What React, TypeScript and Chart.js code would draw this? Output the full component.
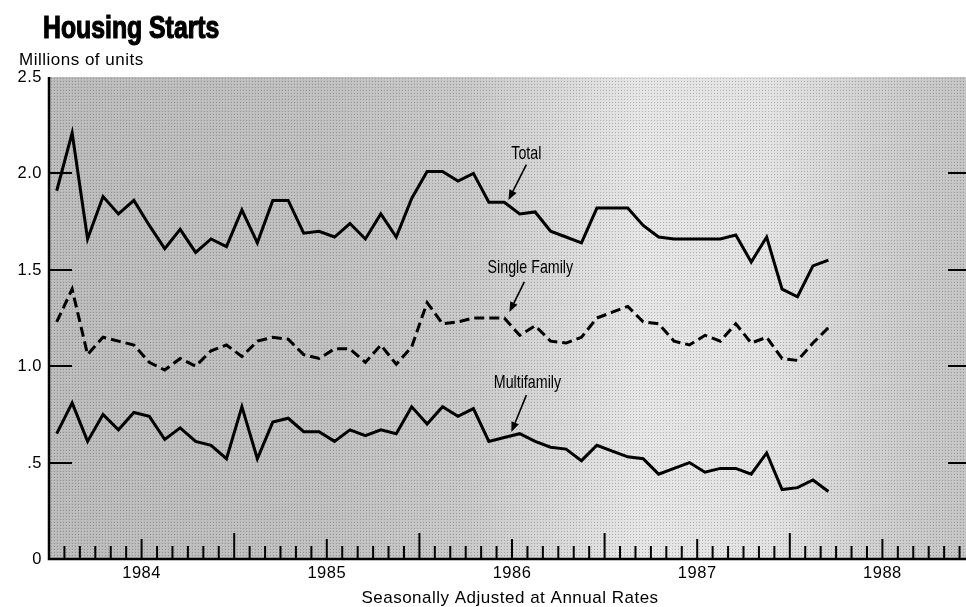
import React, { useEffect, useRef } from "react";
import { Chart, registerables } from "chart.js";

Chart.register(...registerables);

// ---- Data (monthly, Jan 1984 – Mar 1988, millions of units, SAAR) ----
const yearLabels = ["1984", "1985", "1986", "1987", "1988"];
const xMonthsSpan = 60; // Jan 1984 .. Dec 1988
const yTickValues = [0, 0.5, 1.0, 1.5, 2.0, 2.5];
const yTickLabels = ["0", ".5", "1.0", "1.5", "2.0", "2.5"];

const total = [
  1.91, 2.21, 1.66, 1.88, 1.79, 1.86, 1.73, 1.61, 1.71, 1.59, 1.66, 1.62,
  1.81, 1.64, 1.86, 1.86, 1.69, 1.70, 1.67, 1.74, 1.66, 1.79, 1.67, 1.87,
  2.01, 2.01, 1.96, 2.00, 1.85, 1.85, 1.79, 1.80, 1.70, 1.67, 1.64, 1.82,
  1.82, 1.82, 1.73, 1.67, 1.66, 1.66, 1.66, 1.66, 1.68, 1.54, 1.67, 1.40,
  1.36, 1.52, 1.55,
];

const singleFamily = [
  1.23, 1.40, 1.06, 1.15, 1.13, 1.11, 1.02, 0.98, 1.04, 1.00, 1.08, 1.11,
  1.05, 1.13, 1.15, 1.14, 1.06, 1.04, 1.09, 1.09, 1.02, 1.11, 1.01, 1.10,
  1.33, 1.22, 1.23, 1.25, 1.25, 1.25, 1.16, 1.21, 1.13, 1.12, 1.15, 1.25,
  1.28, 1.31, 1.23, 1.22, 1.13, 1.11, 1.16, 1.13, 1.22, 1.12, 1.15, 1.04,
  1.03, 1.12, 1.20,
];

const multifamily = [
  0.65, 0.81, 0.61, 0.75, 0.67, 0.76, 0.74, 0.62, 0.68, 0.61, 0.59, 0.52,
  0.79, 0.52, 0.71, 0.73, 0.66, 0.66, 0.61, 0.67, 0.64, 0.67, 0.65, 0.79,
  0.70, 0.79, 0.74, 0.78, 0.61, 0.63, 0.65, 0.61, 0.58, 0.57, 0.51, 0.59,
  0.56, 0.53, 0.52, 0.44, 0.47, 0.50, 0.45, 0.47, 0.47, 0.44, 0.55, 0.36,
  0.37, 0.41, 0.35,
];

// annotation labels in data coordinates (month index, value)
const annotationTexts = ["Total", "Single Family", "Multifamily"];
const annotationTextAt = [
  [30.93, 2.1],
  [31.19, 1.51],
  [31.0, 0.915],
];
const annotationArrowFrom = [
  [30.93, 2.045],
  [30.8, 1.437],
  [30.93, 0.85],
];
const annotationArrowTo = [
  [29.77, 1.862],
  [29.83, 1.281],
  [29.96, 0.659],
];

const xPos = total.map((_, i) => i + 0.5);
const toPoints = (arr: number[]) => arr.map((v, i) => ({ x: xPos[i], y: v }));

const FONT = "'Liberation Sans', Arial, Helvetica, sans-serif";

const customPlugin = {
  id: "housingCustom",
  beforeDatasetsDraw(chart: any) {
    const { ctx, chartArea: a, scales } = chart;
    const x = scales.x;
    const y = scales.y;
    ctx.save();
    // halftone-like background
    const g = ctx.createLinearGradient(a.left, 0, a.right, 0);
    const w = a.right - a.left;
    const stop = (px: number, c: string) =>
      g.addColorStop(Math.min(1, Math.max(0, (px - a.left) / w)), c);
    stop(49, "#bababa");
    stop(330, "#bfbfbf");
    stop(470, "#c8c8c8");
    stop(560, "#d8d8d8");
    stop(640, "#e5e5e5");
    stop(770, "#e2e2e2");
    stop(870, "#cfcfcf");
    stop(975, "#c2c2c2");
    ctx.fillStyle = g;
    ctx.fillRect(a.left, a.top, w, a.bottom - a.top);

    // fine dot texture
    const pc = document.createElement("canvas");
    pc.width = 3;
    pc.height = 3;
    const pctx = pc.getContext("2d")!;
    pctx.fillStyle = "rgba(0,0,0,0.22)";
    pctx.fillRect(0, 0, 1, 1);
    pctx.fillStyle = "rgba(255,255,255,0.18)";
    pctx.fillRect(1, 1, 1, 1);
    const pat = ctx.createPattern(pc, "repeat");
    if (pat) {
      ctx.fillStyle = pat;
      ctx.fillRect(a.left, a.top, w, a.bottom - a.top);
    }

    ctx.strokeStyle = "#000";
    ctx.lineCap = "butt";
    // y ticks (inward, left and right)
    ctx.lineWidth = 2;
    yTickValues.forEach((v) => {
      if (v === 0 || v === 2.5) return;
      const py = Math.round(y.getPixelForValue(v));
      ctx.beginPath();
      ctx.moveTo(a.left, py);
      ctx.lineTo(a.left + 23, py);
      ctx.moveTo(a.right, py);
      ctx.lineTo(a.right - 27, py);
      ctx.stroke();
    });
    // x ticks (monthly, upward)
    for (let k = 1; k < xMonthsSpan; k++) {
      const px = x.getPixelForValue(k);
      let len = 13;
      if (k % 12 === 0) len = 26;
      else if (k % 12 === 6) len = 20;
      ctx.beginPath();
      ctx.moveTo(px, a.bottom);
      ctx.lineTo(px, a.bottom - len);
      ctx.stroke();
    }
    // axes (left and bottom)
    ctx.lineWidth = 2.5;
    ctx.beginPath();
    ctx.moveTo(a.left, a.top);
    ctx.lineTo(a.left, a.bottom);
    ctx.lineTo(a.right, a.bottom);
    ctx.stroke();
    ctx.restore();
  },
  afterDraw(chart: any) {
    const { ctx, chartArea: a, scales } = chart;
    const x = scales.x;
    const y = scales.y;
    ctx.save();
    ctx.fillStyle = "#000";
    ctx.strokeStyle = "#000";

    // Title
    ctx.save();
    ctx.translate(43, 37.5);
    ctx.scale(0.8, 1);
    ctx.font = `bold 31px ${FONT}`;
    ctx.textBaseline = "alphabetic";
    ctx.textAlign = "left";
    ctx.lineWidth = 1.2;
    ctx.fillText("Housing Starts", 0, 0);
    ctx.strokeText("Housing Starts", 0, 0);
    ctx.restore();

    // Units label
    ctx.font = `17px ${FONT}`;
    (ctx as any).letterSpacing = "0.5px";
    ctx.textAlign = "left";
    ctx.textBaseline = "alphabetic";
    ctx.fillText("Millions of units", 19, 65);

    // y tick labels
    ctx.font = `16.5px ${FONT}`;
    ctx.textAlign = "right";
    ctx.textBaseline = "middle";
    yTickValues.forEach((v, i) => {
      ctx.fillText(yTickLabels[i], a.left - 7, y.getPixelForValue(v) + 0.5);
    });

    // x year labels
    ctx.textAlign = "center";
    ctx.textBaseline = "middle";
    ctx.font = `16.5px ${FONT}`;
    yearLabels.forEach((lab, i) => {
      ctx.fillText(lab, x.getPixelForValue(i * 12 + 6), 573);
    });

    // x axis title
    ctx.font = `17px ${FONT}`;
    ctx.fillText(
      "Seasonally Adjusted at Annual Rates",
      (x.getPixelForValue(0) + x.getPixelForValue(xMonthsSpan)) / 2 - 2,
      598
    );
    (ctx as any).letterSpacing = "0px";

    // annotations
    annotationTexts.forEach((t, i) => {
      const tx = x.getPixelForValue(annotationTextAt[i][0]);
      const ty = y.getPixelForValue(annotationTextAt[i][1]);
      ctx.save();
      ctx.translate(tx, ty);
      ctx.scale(0.75, 1);
      ctx.font = `19px ${FONT}`;
      ctx.textAlign = "center";
      ctx.textBaseline = "middle";
      ctx.fillText(t, 0, 0);
      ctx.restore();

      const x0 = x.getPixelForValue(annotationArrowFrom[i][0]);
      const y0 = y.getPixelForValue(annotationArrowFrom[i][1]);
      const x1 = x.getPixelForValue(annotationArrowTo[i][0]);
      const y1 = y.getPixelForValue(annotationArrowTo[i][1]);
      const ang = Math.atan2(y1 - y0, x1 - x0);
      const hl = 10;
      const hw = 4;
      const bx = x1 - hl * Math.cos(ang);
      const by = y1 - hl * Math.sin(ang);
      ctx.lineWidth = 1.6;
      ctx.beginPath();
      ctx.moveTo(x0, y0);
      ctx.lineTo(bx, by);
      ctx.stroke();
      ctx.beginPath();
      ctx.moveTo(x1, y1);
      ctx.lineTo(bx + hw * Math.sin(ang), by - hw * Math.cos(ang));
      ctx.lineTo(bx - hw * Math.sin(ang), by + hw * Math.cos(ang));
      ctx.closePath();
      ctx.fill();
    });

    ctx.restore();
  },
};

export default function App() {
  const ref = useRef<HTMLCanvasElement | null>(null);

  useEffect(() => {
    if (!ref.current) return;
    const chart = new Chart(ref.current, {
      type: "line",
      data: {
        datasets: [
          {
            label: "Total",
            data: toPoints(total),
            borderColor: "#000",
            borderWidth: 3,
            pointRadius: 0,
            tension: 0,
            borderJoinStyle: "miter",
            fill: false,
          },
          {
            label: "Single Family",
            data: toPoints(singleFamily),
            borderColor: "#000",
            borderWidth: 3,
            borderDash: [10, 5],
            pointRadius: 0,
            tension: 0,
            borderJoinStyle: "miter",
            fill: false,
          },
          {
            label: "Multifamily",
            data: toPoints(multifamily),
            borderColor: "#000",
            borderWidth: 3,
            pointRadius: 0,
            tension: 0,
            borderJoinStyle: "miter",
            fill: false,
          },
        ],
      },
      options: {
        animation: false,
        responsive: false,
        maintainAspectRatio: false,
        devicePixelRatio: 1,
        layout: { padding: { left: 49, right: 15, top: 77, bottom: 48 } },
        plugins: {
          legend: { display: false },
          tooltip: { enabled: false },
          title: { display: false },
        },
        scales: {
          x: { type: "linear", min: 0, max: xMonthsSpan, display: false },
          y: { type: "linear", min: 0, max: 2.5, display: false },
        },
      },
      plugins: [customPlugin],
    });
    return () => chart.destroy();
  }, []);

  return (
    <div
      style={{
        position: "fixed",
        left: 0,
        top: 0,
        width: 966,
        height: 607,
        overflow: "hidden",
        background: "#fff",
      }}
    >
      <canvas
        ref={ref}
        width={990}
        height={607}
        style={{ width: 990, height: 607, display: "block" }}
      />
    </div>
  );
}
